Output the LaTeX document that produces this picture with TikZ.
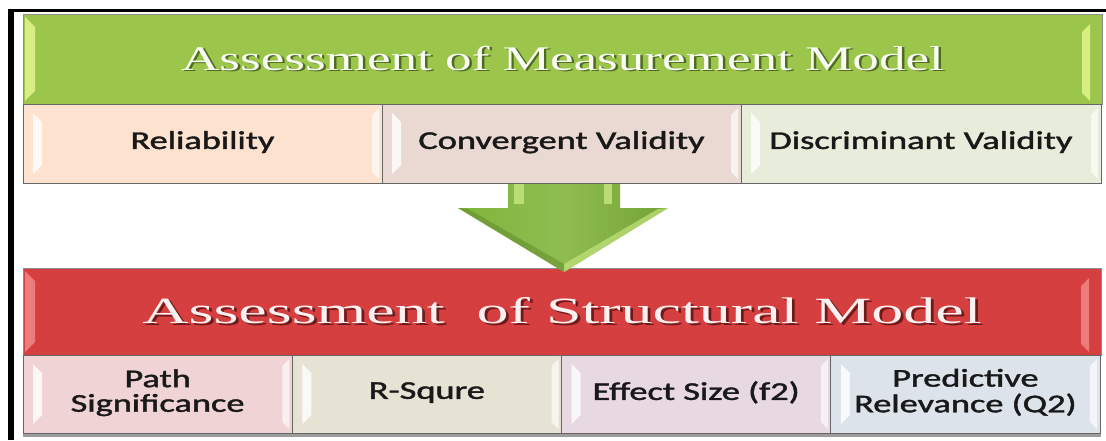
\documentclass[tikz,border=0pt]{standalone}
\usepackage{fontspec}
\usepackage{graphicx}
\usepackage{xcolor}
\usepackage{tikz}
\usetikzlibrary{positioning}

\newfontfamily\headfont{Liberation Serif}
\newfontfamily\cellfont[FakeBold=1.4]{Carlito}

% header and cell colours
\definecolor{measgreen}{HTML}{9CC64B}
\definecolor{measlight}{HTML}{D6EE84}
\definecolor{measshade}{HTML}{4E6B1E}
\definecolor{structred}{HTML}{D63F3F}
\definecolor{structlight}{HTML}{EC7C7C}
\definecolor{structshade}{HTML}{6E1A1A}
\definecolor{arrowgreen}{HTML}{80B43A}
\definecolor{arrowlight}{HTML}{C4E47E}
\definecolor{relfill}{HTML}{FCE2CF}
\definecolor{convfill}{HTML}{EAD9D2}
\definecolor{discfill}{HTML}{E7EDDA}
\definecolor{pathfill}{HTML}{F0D3D4}
\definecolor{rsqfill}{HTML}{E7E3D4}
\definecolor{efffill}{HTML}{E7D8E2}
\definecolor{predfill}{HTML}{DDE3EB}

% embossed header text: dark copy underneath, light copy on top
\newcommand{\embossed}[3]{\makebox[0pt][l]{\kern1.6pt\raisebox{-1.6pt}{\color{#1}#3}}{\color{#2}#3}}
% cell text, widened
\newcommand{\cellstack}[1]{\scalebox{1.42}[1]{\begin{tabular}{@{}c@{}}#1\end{tabular}}}

\begin{document}
\begin{tikzpicture}[x=1pt, y=1pt,
  hdr/.style={draw=black!45, line width=0.8pt, inner sep=0pt, outer sep=0pt, anchor=north west},
  cell/.style={draw=black!60, line width=0.8pt, inner sep=0pt, outer sep=0pt,
    font=\cellfont\fontsize{25.6}{23}\selectfont, text=black!90, cellbevel},
  cellbevel/.style={path picture={
    \fill[white, opacity=.8]
      ([shift={(10,9)}]path picture bounding box.south west) --
      ([shift={(10,-9)}]path picture bounding box.north west) --
      ([shift={(19,-18)}]path picture bounding box.north west) --
      ([shift={(19,18)}]path picture bounding box.south west) -- cycle;
    \fill[white, opacity=.65]
      ([shift={(-3,4)}]path picture bounding box.south east) --
      ([shift={(-3,-4)}]path picture bounding box.north east) --
      ([shift={(-10,-11)}]path picture bounding box.north east) --
      ([shift={(-10,11)}]path picture bounding box.south east) -- cycle;
  }},
  hdrbevel/.style={path picture={
    \fill[#1]
      ([shift={(2,3)}]path picture bounding box.south west) --
      ([shift={(2,-3)}]path picture bounding box.north west) --
      ([shift={(12,-13)}]path picture bounding box.north west) --
      ([shift={(12,13)}]path picture bounding box.south west) -- cycle;
    \fill[#1]
      ([shift={(-12,3)}]path picture bounding box.south east) --
      ([shift={(-12,-10)}]path picture bounding box.north east) --
      ([shift={(-20,-18)}]path picture bounding box.north east) --
      ([shift={(-20,11)}]path picture bounding box.south east) -- cycle;
  }}]
\useasboundingbox (0,0) rectangle (1106,440);
\fill[white] (0,0) rectangle (1106,440);

% Draw the frame lines (top and left)
\draw[line width=3pt] (8,429) -- (1106,429);
\draw[line width=6pt] (11,0) -- (11,430.5);

% Measurement model: header and its three cells
\node[hdr, fill=measgreen, hdrbevel=measlight, minimum width=1079pt, minimum height=90pt] (measure) at (23,426)
  {\headfont\fontsize{34.5}{40}\selectfont\scalebox{1.54}[1]{\embossed{measshade}{white!94!measgreen}{Assessment of Measurement Model}}};

% Structural model header (drawn before the arrow, whose tip overlaps it)
\node[hdr, fill=structred, hdrbevel=structlight, minimum width=1078pt, minimum height=87pt] (struct) at (23,172)
  {\headfont\fontsize{37}{42}\selectfont\scalebox{1.73}[1]{\embossed{structshade}{white!92!structred}{Assessment\ \ of Structural Model}}};

% Draw the block arrow between the two models
\coordinate (atop) at (564,258);
\coordinate (atip) at (564,168);
\shade[left color=arrowgreen, right color=arrowgreen!90!black, middle color=arrowgreen!88!white]
  ([xshift=-56pt]atop) -- ([xshift=-56pt,yshift=-26pt]atop) -- ([xshift=-106pt,yshift=-26pt]atop) --
  (atip) -- ([xshift=104pt,yshift=-26pt]atop) -- ([xshift=56pt,yshift=-26pt]atop) -- ([xshift=56pt]atop) -- cycle;
\fill[arrowlight, opacity=.85] ([xshift=-50pt]atop) rectangle ([xshift=-40pt,yshift=-22pt]atop);
\fill[arrowlight, opacity=.85] ([xshift=40pt]atop) rectangle ([xshift=48pt,yshift=-22pt]atop);
\fill[arrowlight, opacity=.7] ([xshift=94pt,yshift=-27pt]atop) -- ([xshift=104pt,yshift=-26pt]atop) -- (atip) -- ([yshift=8pt]atip) -- cycle;
\fill[arrowgreen!75!black, opacity=.5] ([xshift=-96pt,yshift=-27pt]atop) -- ([xshift=-106pt,yshift=-26pt]atop) -- (atip) -- ([yshift=8pt]atip) -- cycle;

% Measurement cells
\node[cell, fill=relfill, anchor=north west, minimum width=359pt, minimum height=79pt] (reliab) at (measure.south west) {\cellstack{Reliability}};
\node[cell, fill=convfill, right=0pt of reliab, minimum width=359pt, minimum height=79pt] (converg) {\cellstack{Convergent Validity}};
\node[cell, fill=discfill, right=0pt of converg, minimum width=360pt, minimum height=79pt] (discrim) {\cellstack{Discriminant Validity}};

% Structural cells
\fill[black!55, opacity=.7] (23,3) rectangle (1101,7);
\node[cell, fill=pathfill, anchor=north west, minimum width=269.25pt, minimum height=78pt] (pathsig) at (struct.south west) {\cellstack{Path\\Significance}};
\node[cell, fill=rsqfill, right=0pt of pathsig, minimum width=269.25pt, minimum height=78pt] (rsquare) {\cellstack{R-Squre}};
\node[cell, fill=efffill, right=0pt of rsquare, minimum width=269.25pt, minimum height=78pt] (effsize) {\cellstack{Effect Size (f2)}};
\node[cell, fill=predfill, right=0pt of effsize, minimum width=269.25pt, minimum height=78pt] (predrel) {\cellstack{Predictive\\Relevance (Q2)}};

\end{tikzpicture}
\end{document}
